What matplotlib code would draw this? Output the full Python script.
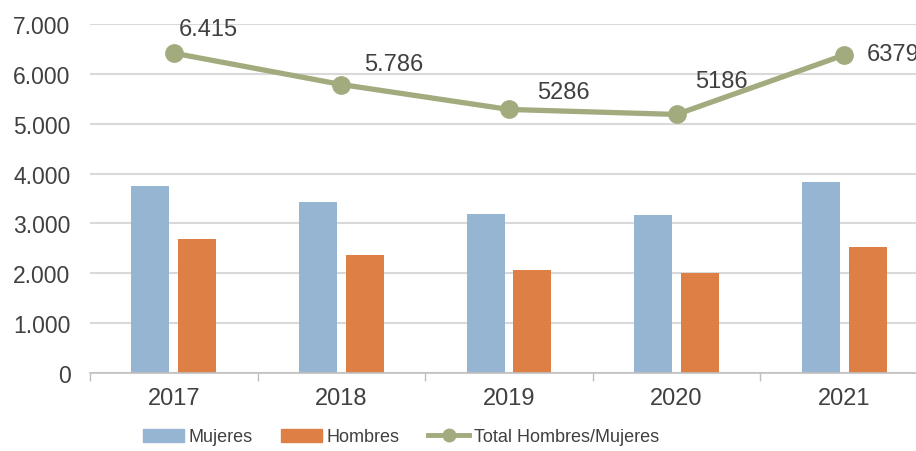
import matplotlib.pyplot as plt
import matplotlib.patches as mpatches
from matplotlib.lines import Line2D
from matplotlib.ticker import FuncFormatter
import numpy as np

years = ['2017', '2018', '2019', '2020', '2021']
mujeres = [3745, 3423, 3196, 3176, 3840]
hombres = [2687, 2366, 2070, 2010, 2533]
total = [6415, 5786, 5286, 5186, 6379]
total_labels = ['6.415', '5.786', '5286', '5186', '6379']

c_muj = '#95B5D3'
c_hom = '#DE8045'
c_tot = '#A2AB7E'
txt = '#404040'

plt.rcParams['font.family'] = ['Liberation Sans', 'DejaVu Sans']

fig = plt.figure(figsize=(9.16, 4.52), dpi=100)
ax = fig.add_axes([90 / 916, 1 - 374 / 452, 838 / 916, 349 / 452])

x = np.arange(len(years))
w = 0.227
ax.bar(x - 0.14, mujeres, w, color=c_muj, zorder=2)
ax.bar(x + 0.14, hombres, w, color=c_hom, zorder=2)
ax.plot(x, total, color=c_tot, lw=3.8, marker='o', ms=12.5, zorder=3)

# label offsets in pixels (dx, dy)
offs = [(35, 24), (52, 21), (54, 17), (45, 33), (23, 1)]
for i, (v, lab) in enumerate(zip(total, total_labels)):
    dx, dy = offs[i]
    ha = 'left' if i == len(total) - 1 else 'center'
    ax.annotate(lab, (x[i], v), xytext=(dx, dy), textcoords='offset pixels',
                ha=ha, va='center', fontsize=17, color=txt)

ax.set_xlim(-0.5, 4.5)
ax.set_ylim(0, 7000)
ax.set_yticks(range(0, 7001, 1000))
ax.yaxis.set_major_formatter(FuncFormatter(lambda v, p: '0' if v == 0 else '{:,.0f}'.format(v).replace(',', '.')))
ax.set_xticks(x)
ax.set_xticklabels(years)
ax.set_xticks(np.arange(-0.5, 5, 1), minor=True)
ax.tick_params(axis='x', which='major', length=0, pad=10, labelsize=17, labelcolor=txt)
ax.tick_params(axis='x', which='minor', length=6, color='#BFBFBF', width=1)
ax.tick_params(axis='y', length=0, pad=14, labelsize=16.5, labelcolor=txt)

ax.grid(axis='y', color='#D9D9D9', lw=1.5, zorder=0)
for s in ['top', 'right', 'left']:
    ax.spines[s].set_visible(False)
ax.spines['bottom'].set_color('#BFBFBF')
ax.spines['bottom'].set_linewidth(1.2)

handles = [mpatches.Patch(color=c_muj, label='Mujeres'),
           mpatches.Patch(color=c_hom, label='Hombres'),
           Line2D([], [], color=c_tot, lw=3.5, marker='o', ms=9, label='Total Hombres/Mujeres')]
fig.legend(handles=handles, loc='center', bbox_to_anchor=(401 / 916, 1 - 438 / 452), ncol=3,
           frameon=False, handlelength=2.25, handleheight=0.75, handletextpad=0.25,
           columnspacing=1.6, prop={'family': ['Liberation Sans Narrow', 'Liberation Sans'], 'size': 13},
           labelcolor=txt)

fig.savefig('out.png', dpi=100)
